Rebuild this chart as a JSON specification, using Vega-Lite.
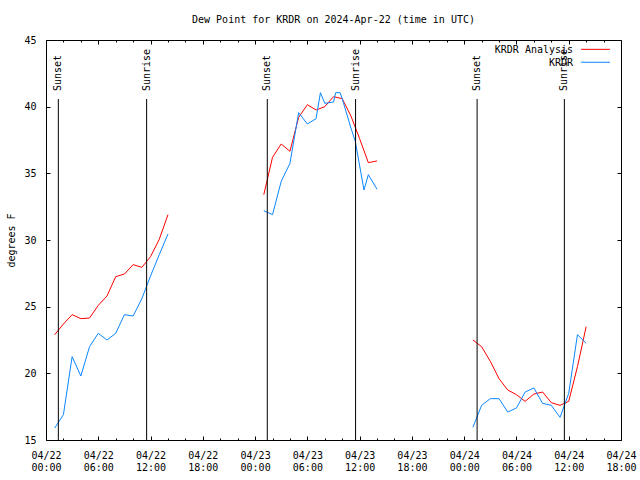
{
  "$schema": "https://vega.github.io/schema/vega-lite/v6.json",
  "width": 575,
  "height": 400,
  "autosize": {"type": "none"},
  "padding": {"left": 46, "top": 40, "right": 19, "bottom": 40},
  "background": "white",
  "title": {"text": "Dew Point for KRDR on 2024-Apr-22 (time in UTC)", "font": "DejaVu Sans Mono", "fontSize": 10, "fontWeight": "normal", "color": "black", "anchor": "middle", "offset": 10},
  "config": {
    "view": {"stroke": "black", "strokeWidth": 1},
    "font": "DejaVu Sans Mono",
    "axis": {"labelFont": "DejaVu Sans Mono", "labelFontSize": 10, "labelColor": "black", "titleFont": "DejaVu Sans Mono", "titleFontSize": 10, "titleFontWeight": "normal", "titleColor": "black", "tickColor": "black", "grid": false, "domain": false}
  },
  "datasets": {
    "dew": [
      {"t": "2024-04-22T01:00:00Z", "s": "KRDR Analysis", "seg": 1, "v": 22.9},
      {"t": "2024-04-22T02:00:00Z", "s": "KRDR Analysis", "seg": 1, "v": 23.7},
      {"t": "2024-04-22T03:00:00Z", "s": "KRDR Analysis", "seg": 1, "v": 24.4},
      {"t": "2024-04-22T04:00:00Z", "s": "KRDR Analysis", "seg": 1, "v": 24.1},
      {"t": "2024-04-22T05:00:00Z", "s": "KRDR Analysis", "seg": 1, "v": 24.15},
      {"t": "2024-04-22T06:00:00Z", "s": "KRDR Analysis", "seg": 1, "v": 25.1},
      {"t": "2024-04-22T07:00:00Z", "s": "KRDR Analysis", "seg": 1, "v": 25.8},
      {"t": "2024-04-22T08:00:00Z", "s": "KRDR Analysis", "seg": 1, "v": 27.25},
      {"t": "2024-04-22T09:00:00Z", "s": "KRDR Analysis", "seg": 1, "v": 27.45},
      {"t": "2024-04-22T10:00:00Z", "s": "KRDR Analysis", "seg": 1, "v": 28.15},
      {"t": "2024-04-22T11:00:00Z", "s": "KRDR Analysis", "seg": 1, "v": 27.95},
      {"t": "2024-04-22T12:00:00Z", "s": "KRDR Analysis", "seg": 1, "v": 28.75},
      {"t": "2024-04-22T13:00:00Z", "s": "KRDR Analysis", "seg": 1, "v": 30.05},
      {"t": "2024-04-22T14:00:00Z", "s": "KRDR Analysis", "seg": 1, "v": 31.9},
      {"t": "2024-04-23T01:00:00Z", "s": "KRDR Analysis", "seg": 2, "v": 33.4},
      {"t": "2024-04-23T02:00:00Z", "s": "KRDR Analysis", "seg": 2, "v": 36.2},
      {"t": "2024-04-23T03:00:00Z", "s": "KRDR Analysis", "seg": 2, "v": 37.2},
      {"t": "2024-04-23T04:00:00Z", "s": "KRDR Analysis", "seg": 2, "v": 36.65},
      {"t": "2024-04-23T05:00:00Z", "s": "KRDR Analysis", "seg": 2, "v": 39.2},
      {"t": "2024-04-23T06:00:00Z", "s": "KRDR Analysis", "seg": 2, "v": 40.15},
      {"t": "2024-04-23T07:00:00Z", "s": "KRDR Analysis", "seg": 2, "v": 39.75},
      {"t": "2024-04-23T08:00:00Z", "s": "KRDR Analysis", "seg": 2, "v": 40.0},
      {"t": "2024-04-23T09:00:00Z", "s": "KRDR Analysis", "seg": 2, "v": 40.75},
      {"t": "2024-04-23T10:00:00Z", "s": "KRDR Analysis", "seg": 2, "v": 40.6},
      {"t": "2024-04-23T11:00:00Z", "s": "KRDR Analysis", "seg": 2, "v": 39.3},
      {"t": "2024-04-23T12:00:00Z", "s": "KRDR Analysis", "seg": 2, "v": 37.6},
      {"t": "2024-04-23T13:00:00Z", "s": "KRDR Analysis", "seg": 2, "v": 35.8},
      {"t": "2024-04-23T14:00:00Z", "s": "KRDR Analysis", "seg": 2, "v": 35.93},
      {"t": "2024-04-24T01:00:00Z", "s": "KRDR Analysis", "seg": 3, "v": 22.5},
      {"t": "2024-04-24T02:00:00Z", "s": "KRDR Analysis", "seg": 3, "v": 22.0},
      {"t": "2024-04-24T03:00:00Z", "s": "KRDR Analysis", "seg": 3, "v": 20.9},
      {"t": "2024-04-24T04:00:00Z", "s": "KRDR Analysis", "seg": 3, "v": 19.6},
      {"t": "2024-04-24T05:00:00Z", "s": "KRDR Analysis", "seg": 3, "v": 18.75},
      {"t": "2024-04-24T06:00:00Z", "s": "KRDR Analysis", "seg": 3, "v": 18.4},
      {"t": "2024-04-24T07:00:00Z", "s": "KRDR Analysis", "seg": 3, "v": 17.9},
      {"t": "2024-04-24T08:00:00Z", "s": "KRDR Analysis", "seg": 3, "v": 18.45},
      {"t": "2024-04-24T09:00:00Z", "s": "KRDR Analysis", "seg": 3, "v": 18.6},
      {"t": "2024-04-24T10:00:00Z", "s": "KRDR Analysis", "seg": 3, "v": 17.8},
      {"t": "2024-04-24T11:00:00Z", "s": "KRDR Analysis", "seg": 3, "v": 17.6},
      {"t": "2024-04-24T12:00:00Z", "s": "KRDR Analysis", "seg": 3, "v": 17.9},
      {"t": "2024-04-24T13:00:00Z", "s": "KRDR Analysis", "seg": 3, "v": 20.5},
      {"t": "2024-04-24T14:00:00Z", "s": "KRDR Analysis", "seg": 3, "v": 23.5},
      {"t": "2024-04-22T01:00:00Z", "s": "KRDR", "seg": 1, "v": 15.9},
      {"t": "2024-04-22T02:00:00Z", "s": "KRDR", "seg": 1, "v": 16.9},
      {"t": "2024-04-22T03:00:00Z", "s": "KRDR", "seg": 1, "v": 21.25},
      {"t": "2024-04-22T04:00:00Z", "s": "KRDR", "seg": 1, "v": 19.8},
      {"t": "2024-04-22T05:00:00Z", "s": "KRDR", "seg": 1, "v": 22.0},
      {"t": "2024-04-22T06:00:00Z", "s": "KRDR", "seg": 1, "v": 23.0},
      {"t": "2024-04-22T07:00:00Z", "s": "KRDR", "seg": 1, "v": 22.5},
      {"t": "2024-04-22T08:00:00Z", "s": "KRDR", "seg": 1, "v": 23.0},
      {"t": "2024-04-22T09:00:00Z", "s": "KRDR", "seg": 1, "v": 24.4},
      {"t": "2024-04-22T10:00:00Z", "s": "KRDR", "seg": 1, "v": 24.3},
      {"t": "2024-04-22T11:00:00Z", "s": "KRDR", "seg": 1, "v": 25.6},
      {"t": "2024-04-22T12:00:00Z", "s": "KRDR", "seg": 1, "v": 27.3},
      {"t": "2024-04-22T13:00:00Z", "s": "KRDR", "seg": 1, "v": 28.9},
      {"t": "2024-04-22T14:00:00Z", "s": "KRDR", "seg": 1, "v": 30.45},
      {"t": "2024-04-23T01:00:00Z", "s": "KRDR", "seg": 2, "v": 32.2},
      {"t": "2024-04-23T02:00:00Z", "s": "KRDR", "seg": 2, "v": 31.9},
      {"t": "2024-04-23T03:00:00Z", "s": "KRDR", "seg": 2, "v": 34.4},
      {"t": "2024-04-23T04:00:00Z", "s": "KRDR", "seg": 2, "v": 35.75},
      {"t": "2024-04-23T05:00:00Z", "s": "KRDR", "seg": 2, "v": 39.55},
      {"t": "2024-04-23T06:00:00Z", "s": "KRDR", "seg": 2, "v": 38.7},
      {"t": "2024-04-23T07:00:00Z", "s": "KRDR", "seg": 2, "v": 39.1},
      {"t": "2024-04-23T07:30:00Z", "s": "KRDR", "seg": 2, "v": 41.05},
      {"t": "2024-04-23T08:00:00Z", "s": "KRDR", "seg": 2, "v": 40.25},
      {"t": "2024-04-23T09:00:00Z", "s": "KRDR", "seg": 2, "v": 40.35},
      {"t": "2024-04-23T09:15:00Z", "s": "KRDR", "seg": 2, "v": 41.05},
      {"t": "2024-04-23T09:45:00Z", "s": "KRDR", "seg": 2, "v": 41.05},
      {"t": "2024-04-23T10:00:00Z", "s": "KRDR", "seg": 2, "v": 40.6},
      {"t": "2024-04-23T11:00:00Z", "s": "KRDR", "seg": 2, "v": 38.4},
      {"t": "2024-04-23T11:30:00Z", "s": "KRDR", "seg": 2, "v": 37.4},
      {"t": "2024-04-23T12:30:00Z", "s": "KRDR", "seg": 2, "v": 33.75},
      {"t": "2024-04-23T13:00:00Z", "s": "KRDR", "seg": 2, "v": 34.9},
      {"t": "2024-04-23T14:00:00Z", "s": "KRDR", "seg": 2, "v": 33.8},
      {"t": "2024-04-24T01:00:00Z", "s": "KRDR", "seg": 3, "v": 15.95},
      {"t": "2024-04-24T02:00:00Z", "s": "KRDR", "seg": 3, "v": 17.6},
      {"t": "2024-04-24T03:00:00Z", "s": "KRDR", "seg": 3, "v": 18.1},
      {"t": "2024-04-24T04:00:00Z", "s": "KRDR", "seg": 3, "v": 18.1},
      {"t": "2024-04-24T05:00:00Z", "s": "KRDR", "seg": 3, "v": 17.1},
      {"t": "2024-04-24T06:00:00Z", "s": "KRDR", "seg": 3, "v": 17.4},
      {"t": "2024-04-24T07:00:00Z", "s": "KRDR", "seg": 3, "v": 18.6},
      {"t": "2024-04-24T08:00:00Z", "s": "KRDR", "seg": 3, "v": 18.9},
      {"t": "2024-04-24T09:00:00Z", "s": "KRDR", "seg": 3, "v": 17.75},
      {"t": "2024-04-24T10:00:00Z", "s": "KRDR", "seg": 3, "v": 17.6},
      {"t": "2024-04-24T11:00:00Z", "s": "KRDR", "seg": 3, "v": 16.7},
      {"t": "2024-04-24T12:00:00Z", "s": "KRDR", "seg": 3, "v": 18.5},
      {"t": "2024-04-24T13:00:00Z", "s": "KRDR", "seg": 3, "v": 22.9},
      {"t": "2024-04-24T14:00:00Z", "s": "KRDR", "seg": 3, "v": 22.25}
    ],
    "sun": [
      {"t": "2024-04-22T01:25:00Z", "event": "Sunset"},
      {"t": "2024-04-22T11:33:00Z", "event": "Sunrise"},
      {"t": "2024-04-23T01:24:00Z", "event": "Sunset"},
      {"t": "2024-04-23T11:32:00Z", "event": "Sunrise"},
      {"t": "2024-04-24T01:29:00Z", "event": "Sunset"},
      {"t": "2024-04-24T11:30:00Z", "event": "Sunrise"}
    ]
  },
  "layer": [
    {
      "data": {"name": "dew"},
      "mark": {"type": "line", "strokeWidth": 1, "interpolate": "linear"},
      "encoding": {
        "x": {
          "field": "t", "type": "temporal",
          "scale": {"type": "utc", "nice": false, "domain": [1713744000000, 1713981600000]},
          "axis": {
            "orient": "bottom", "title": null, "tickCount": 100,
            "values": [1713744000000, 1713751200000, 1713758400000, 1713765600000, 1713772800000, 1713780000000, 1713787200000, 1713794400000, 1713801600000, 1713808800000, 1713816000000, 1713823200000, 1713830400000, 1713837600000, 1713844800000, 1713852000000, 1713859200000, 1713866400000, 1713873600000, 1713880800000, 1713888000000, 1713895200000, 1713902400000, 1713909600000, 1713916800000, 1713924000000, 1713931200000, 1713938400000, 1713945600000, 1713952800000, 1713960000000, 1713967200000, 1713974400000, 1713981600000],
            "tickSize": {"condition": {"test": "utchours(datum.value) % 6 == 0", "value": -4}, "value": -2},
            "labelExpr": "utchours(datum.value) % 6 == 0 ? [utcFormat(datum.value, '%m/%d'), utcFormat(datum.value, '%H:%M')] : ''",
            "labelFlush": false, "labelOverlap": false, "labelBound": false,
            "labelPadding": 14, "labelLineHeight": 12
          }
        },
        "y": {
          "field": "v", "type": "quantitative",
          "scale": {"domain": [15, 45], "nice": false, "zero": false},
          "axis": {"orient": "left", "title": "degrees F", "values": [15, 20, 25, 30, 35, 40, 45], "tickSize": -4, "labelPadding": 14, "titlePadding": 7}
        },
        "color": {"field": "s", "type": "nominal", "scale": {"domain": ["KRDR Analysis", "KRDR"], "range": ["#ff0000", "#0a86ff"]}, "legend": null},
        "detail": {"field": "seg", "type": "nominal"}
      }
    },
    {
      "data": {"name": "sun"},
      "mark": {"type": "rule", "color": "black", "strokeWidth": 1},
      "encoding": {
        "x": {
          "field": "t", "type": "temporal",
          "axis": {
            "orient": "top", "title": null, "labels": false, "tickCount": 100,
            "values": [1713744000000, 1713751200000, 1713758400000, 1713765600000, 1713772800000, 1713780000000, 1713787200000, 1713794400000, 1713801600000, 1713808800000, 1713816000000, 1713823200000, 1713830400000, 1713837600000, 1713844800000, 1713852000000, 1713859200000, 1713866400000, 1713873600000, 1713880800000, 1713888000000, 1713895200000, 1713902400000, 1713909600000, 1713916800000, 1713924000000, 1713931200000, 1713938400000, 1713945600000, 1713952800000, 1713960000000, 1713967200000, 1713974400000, 1713981600000],
            "tickSize": {"condition": {"test": "utchours(datum.value) % 6 == 0", "value": -4}, "value": -2}
          }
        },
        "y": {"datum": 40.575, "type": "quantitative", "axis": {"orient": "right", "title": null, "labels": false, "values": [15, 20, 25, 30, 35, 40, 45], "tickSize": -4}},
        "y2": {"datum": 15}
      }
    },
    {
      "data": {"name": "sun"},
      "mark": {"type": "text", "angle": 270, "align": "left", "baseline": "middle", "font": "DejaVu Sans Mono", "fontSize": 10, "color": "black", "dx": 1},
      "encoding": {
        "x": {"field": "t", "type": "temporal", "axis": null},
        "y": {"datum": 41.1, "type": "quantitative", "axis": null},
        "text": {"field": "event"}
      }
    },
    {
      "data": {"values": [{"label": "KRDR Analysis"}]},
      "mark": {"type": "text", "align": "right", "baseline": "middle", "font": "DejaVu Sans Mono", "fontSize": 10, "color": "black"},
      "encoding": {
        "x": {"datum": 1713961800000, "type": "temporal", "axis": null},
        "y": {"datum": 44.25, "type": "quantitative", "axis": null},
        "text": {"field": "label"}
      }
    },
    {
      "data": {"values": [{"label": "KRDR"}]},
      "mark": {"type": "text", "align": "right", "baseline": "middle", "font": "DejaVu Sans Mono", "fontSize": 10, "color": "black"},
      "encoding": {
        "x": {"datum": 1713961800000, "type": "temporal", "axis": null},
        "y": {"datum": 43.3, "type": "quantitative", "axis": null},
        "text": {"field": "label"}
      }
    },
    {
      "data": {"values": [{"s": "KRDR Analysis"}]},
      "mark": {"type": "rule", "strokeWidth": 1},
      "encoding": {
        "x": {"datum": 1713965100000, "type": "temporal", "axis": null},
        "x2": {"datum": 1713977040000},
        "y": {"datum": 44.3, "type": "quantitative", "axis": null},
        "color": {"field": "s", "type": "nominal", "legend": null}
      }
    },
    {
      "data": {"values": [{"s": "KRDR"}]},
      "mark": {"type": "rule", "strokeWidth": 1},
      "encoding": {
        "x": {"datum": 1713965100000, "type": "temporal", "axis": null},
        "x2": {"datum": 1713977040000},
        "y": {"datum": 43.33, "type": "quantitative", "axis": null},
        "color": {"field": "s", "type": "nominal", "legend": null}
      }
    }
  ],
  "resolve": {"axis": {"x": "independent", "y": "independent"}}
}
